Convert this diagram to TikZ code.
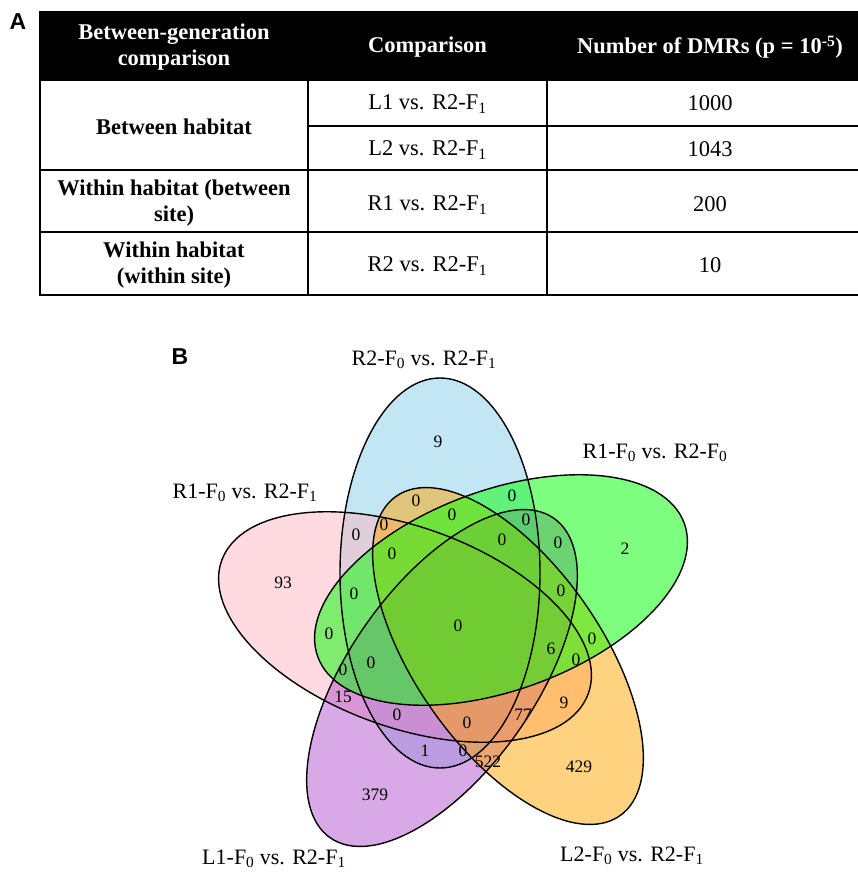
\documentclass[tikz,border=0pt]{standalone}
\usepackage{fontspec}
\setmainfont{Liberation Serif}
\newfontfamily\panelfont{Liberation Sans}
\definecolor{cblue}{HTML}{87CEEB}
\definecolor{cpink}{HTML}{FFB6C1}
\definecolor{cpurple}{HTML}{B452CD}
\definecolor{corange}{HTML}{FFA500}
\definecolor{cgreen}{HTML}{00FF00}
\tikzset{
  tabtxt/.style={font=\fontsize{22.5}{26.5}\selectfont, align=center, inner sep=0pt},
  headtxt/.style={tabtxt, text=white, font=\fontsize{22.5}{26.5}\selectfont\bfseries},
  boldtxt/.style={tabtxt, font=\fontsize{22.5}{26.5}\selectfont\bfseries},
  tabline/.style={line width=2.3pt, black},
  setlabel/.style={font=\fontsize{22}{24}\selectfont, inner sep=0pt},
  num/.style={font=\fontsize{17.5}{20}\selectfont, inner sep=0pt},
  panel/.style={font=\panelfont\fontsize{23}{25}\selectfont\bfseries, inner sep=0pt},
  vfill/.style={fill opacity=0.5},
  vline/.style={line width=1.4pt, black},
  wide/.style={x radius=100, y radius=195},
  slim/.style={x radius=93, y radius=195}
}
\begin{document}
\begin{tikzpicture}[x=1pt,y=-1pt]
\useasboundingbox (0,0) rectangle (858,873);
\clip (0,0) rectangle (858,873);
% ---------- panel A: table ----------
\node[panel] (lblA) at (18,22) {A};
\fill[black] (40,11) rectangle (880,80);
\draw[tabline] (40,11) -- (40,296);
\draw[tabline] (308,80) -- (308,296);
\draw[tabline] (547,80) -- (547,296);
\draw[tabline] (39,80) -- (880,80);
\draw[tabline] (308,126) -- (880,126);
\draw[tabline] (39,170) -- (880,170);
\draw[tabline] (39,232) -- (880,232);
\draw[tabline] (39,295) -- (880,295);
\node[headtxt] (h1) at (174,47) {Between-generation\\comparison};
\node[headtxt] (h2) at (427.5,47) {Comparison};
\node[headtxt] (h3) at (710,47) {Number of DMRs (p = 10\textsuperscript{-5})};
\node[boldtxt] (r1a) at (174,127) {Between habitat};
\node[tabtxt] (r1b) at (427.5,104) {L1 vs. R2-F\textsubscript{1}};
\node[tabtxt] (r1c) at (710,103) {1000};
\node[tabtxt] (r2b) at (427.5,150) {L2 vs. R2-F\textsubscript{1}};
\node[tabtxt] (r2c) at (710,149) {1043};
\node[boldtxt] (r3a) at (174,203) {Within habitat (between\\site)};
\node[tabtxt] (r3b) at (427.5,205) {R1 vs. R2-F\textsubscript{1}};
\node[tabtxt] (r3c) at (710,204) {200};
\node[boldtxt] (r4a) at (174,265) {Within habitat\\(within site)};
\node[tabtxt] (r4b) at (427.5,266) {R2 vs. R2-F\textsubscript{1}};
\node[tabtxt] (r4c) at (710,265) {10};
% ---------- panel B: Venn ----------
\node[panel] (lblB) at (180,357) {B};
% fills
\fill[cblue,vfill,shift={(440,573)},rotate=0] (0,0) ellipse [wide];
\fill[cpink,vfill,shift={(405,627)},rotate=70] (0,0) ellipse [wide];
\fill[cpurple,vfill,shift={(442,678)},rotate=145] (0,0) ellipse [slim];
\fill[corange,vfill,shift={(508,656)},rotate=-145] (0,0) ellipse [slim];
\fill[cgreen,vfill,shift={(501,590)},rotate=-70] (0,0) ellipse [wide];
% borders
\draw[vline,shift={(440,573)},rotate=0] (0,0) ellipse [wide];
\draw[vline,shift={(405,627)},rotate=70] (0,0) ellipse [wide];
\draw[vline,shift={(442,678)},rotate=145] (0,0) ellipse [slim];
\draw[vline,shift={(508,656)},rotate=-145] (0,0) ellipse [slim];
\draw[vline,shift={(501,590)},rotate=-70] (0,0) ellipse [wide];
% set labels
\node[setlabel] (sBlue) at (424,360) {R2-F\textsubscript{0} vs. R2-F\textsubscript{1}};
\node[setlabel] (sGreen) at (655,453) {R1-F\textsubscript{0} vs. R2-F\textsubscript{0}};
\node[setlabel] (sPink) at (245,493) {R1-F\textsubscript{0} vs. R2-F\textsubscript{1}};
\node[setlabel] (sPurple) at (274,859) {L1-F\textsubscript{0} vs. R2-F\textsubscript{1}};
\node[setlabel] (sOrange) at (632,856) {L2-F\textsubscript{0} vs. R2-F\textsubscript{1}};
% region counts
\node[num] (n01) at (438,442) {9};
\node[num] (n02) at (283,583) {93};
\node[num] (n03) at (625,549) {2};
\node[num] (n04) at (416,501) {0};
\node[num] (n05) at (512,496) {0};
\node[num] (n06) at (452,515) {0};
\node[num] (n07) at (384,525) {0};
\node[num] (n08) at (356,535) {0};
\node[num] (n09) at (526,520) {0};
\node[num] (n10) at (502,540) {0};
\node[num] (n11) at (558,543) {0};
\node[num] (n12) at (392,554) {0};
\node[num] (n13) at (354,594) {0};
\node[num] (n14) at (561,591) {0};
\node[num] (n15) at (329,634) {0};
\node[num] (n16) at (458,626) {0};
\node[num] (n17) at (551,649) {6};
\node[num] (n18) at (592,639) {0};
\node[num] (n19) at (576,660) {0};
\node[num] (n20) at (371,663) {0};
\node[num] (n21) at (343,670) {0};
\node[num] (n22) at (343,697) {15};
\node[num] (n23) at (397,715) {0};
\node[num] (n24) at (467,723) {0};
\node[num] (n25) at (523,715) {77};
\node[num] (n26) at (564,703) {9};
\node[num] (n27) at (425,751) {1};
\node[num] (n28) at (463,751) {0};
\node[num] (n29) at (488,762) {522};
\node[num] (n30) at (579,767) {429};
\node[num] (n31) at (375,795) {379};
\end{tikzpicture}
\end{document}
